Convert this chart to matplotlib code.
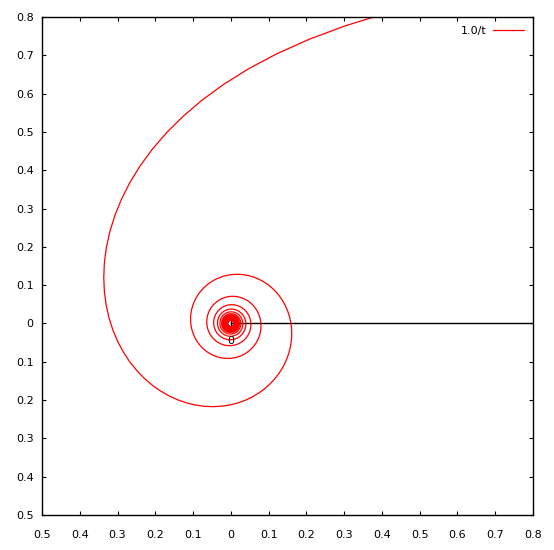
import numpy as np
import matplotlib
matplotlib.use("Agg")
import matplotlib.pyplot as plt
from matplotlib.ticker import FuncFormatter

# Polar function r = 1.0/t sampled on t (gnuplot-style polar plot)
t_start, t_stop, t_step = 0.1, 125.0, 0.1
series_label = "1.0/t"
x_ticks = [-0.5, -0.4, -0.3, -0.2, -0.1, 0.0, 0.1, 0.2, 0.3, 0.4, 0.5, 0.6, 0.7, 0.8]
y_ticks = [-0.5, -0.4, -0.3, -0.2, -0.1, 0.0, 0.1, 0.2, 0.3, 0.4, 0.5, 0.6, 0.7, 0.8]
raxis_end = 0.8
r_label = "0"

t = np.arange(t_start, t_stop, t_step)
r = 1.0 / t
x = r * np.cos(t)
y = r * np.sin(t)

fig = plt.figure(figsize=(5.54, 5.5), dpi=100)
ax = fig.add_axes([42 / 554, 1 - 515 / 550, (533 - 42) / 554, (515 - 17) / 550])

# polar r-axis
ax.plot([0, raxis_end], [0, 0], color="black", lw=1.0, zorder=1)
ax.plot([0, 0], [-0.008, 0.008], color="black", lw=1.0, zorder=1)
ax.text(0, -0.047, r_label, ha="center", va="center", fontsize=8, color="black")

ax.plot(x, y, color="red", lw=0.9, label=series_label, zorder=2)

ax.set_xlim(x_ticks[0], x_ticks[-1])
ax.set_ylim(y_ticks[0], y_ticks[-1])
ax.set_xticks(x_ticks)
ax.set_yticks(y_ticks)
fmt = FuncFormatter(lambda v, p: ("%g" % abs(round(v, 3))))
ax.xaxis.set_major_formatter(fmt)
ax.yaxis.set_major_formatter(fmt)
ax.tick_params(direction="in", length=3, width=0.8, top=True, right=True,
               labelsize=8)
ax.tick_params(axis="x", pad=11)
ax.tick_params(axis="y", pad=6)
for s in ax.spines.values():
    s.set_linewidth(1.0)

leg = ax.legend(loc="upper right", frameon=False, markerfirst=False,
                fontsize=8, handlelength=2.8, borderaxespad=0.3,
                handletextpad=0.6, borderpad=0.5)

fig.savefig("out.png", dpi=100, facecolor="white")
